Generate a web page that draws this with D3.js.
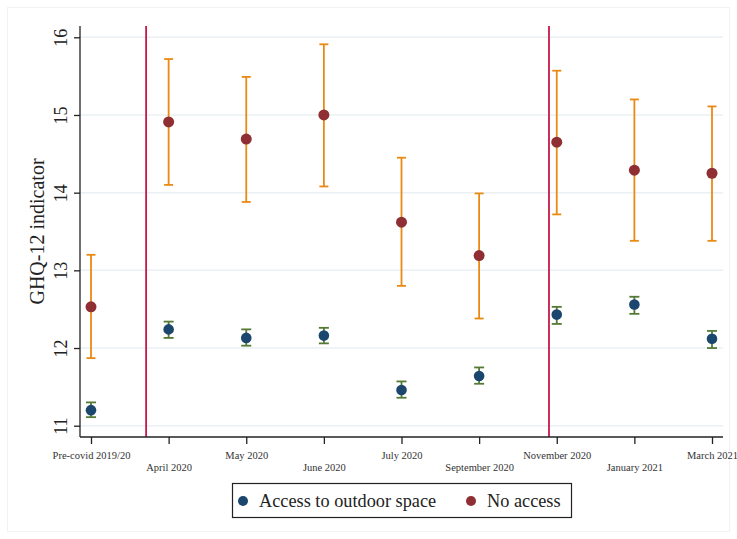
<!DOCTYPE html>
<html><head><meta charset="utf-8">
<script src="https://cdn.jsdelivr.net/npm/d3@7"></script>
<style>body{margin:0;background:#fff}</style>
</head><body>
<script>
const categories = ["Pre-covid 2019/20","April 2020","May 2020","June 2020","July 2020","September 2020","November 2020","January 2021","March 2021"];
const accessMean = [11.20,12.24,12.13,12.16,11.46,11.64,12.43,12.56,12.12];
const accessLo   = [11.11,12.13,12.03,12.06,11.36,11.54,12.31,12.44,12.00];
const accessHi   = [11.30,12.34,12.24,12.26,11.57,11.75,12.53,12.66,12.22];
const noMean = [12.53,14.91,14.69,15.00,13.62,13.19,14.65,14.29,14.25];
const noLo   = [11.87,14.10,13.88,14.08,12.80,12.38,13.72,13.38,13.38];
const noHi   = [13.20,15.72,15.49,15.91,14.45,13.99,15.57,15.20,15.11];
const yTicks = [11,12,13,14,15,16];
const refLines = [0.71, 5.9];
const legendLabels = ["Access to outdoor space","No access"];

const W=737,H=539;
const svg=d3.select("body").append("svg").attr("width",W).attr("height",H);
const font="'Liberation Serif', 'DejaVu Serif', serif";
svg.append("rect").attr("x",7.5).attr("y",7.5).attr("width",W-15).attr("height",H-15).attr("fill","none").attr("stroke","#f2f2f2");

const x=d3.scaleLinear().domain([0,8]).range([91,712]);
const y=d3.scaleLinear().domain([11,16]).range([425.7,37.3]);
const xL=80, xR=723, yT=26, yB=437;

svg.append("g").selectAll("line").data(yTicks).join("line")
  .attr("x1",xL).attr("x2",xR).attr("y1",d=>y(d)).attr("y2",d=>y(d))
  .attr("stroke","#eaf0f3").attr("stroke-width",1.5);

svg.append("g").selectAll("line").data(refLines).join("line")
  .attr("x1",d=>x(d)).attr("x2",d=>x(d)).attr("y1",yT).attr("y2",yB)
  .attr("stroke","#c8174a").attr("stroke-width",1.8);

const yAxis=svg.append("g").attr("transform",`translate(${xL},0)`)
  .call(d3.axisLeft(y).tickValues(yTicks).tickSize(6).tickFormat(d3.format("d")));
yAxis.select(".domain").attr("d",`M0,${yT}V${yB}`).attr("stroke","#222").attr("stroke-width",1.3);
yAxis.selectAll(".tick line").attr("stroke","#222").attr("stroke-width",1.3);
yAxis.selectAll(".tick text").attr("font-family",font).attr("font-size",18).attr("fill","#222")
  .attr("transform","rotate(-90)").attr("text-anchor","middle").attr("x",0).attr("y",-13).attr("dy","0");

const xAxis=svg.append("g").attr("transform",`translate(0,${yB})`)
  .call(d3.axisBottom(x).tickValues(d3.range(categories.length)).tickSize(7).tickFormat(i=>categories[i]));
xAxis.select(".domain").attr("d",`M${xL},0H${xR}`).attr("stroke","#222").attr("stroke-width",1.3);
xAxis.selectAll(".tick line").attr("stroke","#222").attr("stroke-width",1.3);
xAxis.selectAll(".tick text").attr("font-family",font).attr("font-size",10.5).attr("fill","#333")
  .attr("y",(d,i)=>i%2===0?15:27).attr("dy","0.71em");

svg.append("text").attr("transform",`translate(44,${(yT+yB)/2}) rotate(-90)`)
  .attr("text-anchor","middle").attr("font-family",font).attr("font-size",20).attr("fill","#222")
  .text("GHQ-12 indicator");

function series(mean,lo,hi,ciColor,dotColor,capW,r){
  const g=svg.append("g");
  const idx=d3.range(mean.length);
  g.selectAll(".v").data(idx).join("line").attr("x1",i=>x(i)).attr("x2",i=>x(i))
    .attr("y1",i=>y(lo[i])).attr("y2",i=>y(hi[i])).attr("stroke",ciColor).attr("stroke-width",1.8);
  g.selectAll(".c1").data(idx).join("line").attr("x1",i=>x(i)-capW/2).attr("x2",i=>x(i)+capW/2)
    .attr("y1",i=>y(lo[i])).attr("y2",i=>y(lo[i])).attr("stroke",ciColor).attr("stroke-width",1.8);
  g.selectAll(".c2").data(idx).join("line").attr("x1",i=>x(i)-capW/2).attr("x2",i=>x(i)+capW/2)
    .attr("y1",i=>y(hi[i])).attr("y2",i=>y(hi[i])).attr("stroke",ciColor).attr("stroke-width",1.8);
  g.selectAll("circle").data(idx).join("circle").attr("cx",i=>x(i)).attr("cy",i=>y(mean[i]))
    .attr("r",r).attr("fill",dotColor);
}
series(noMean,noLo,noHi,"#ea8a12","#8f2f33",9,5.5);
series(accessMean,accessLo,accessHi,"#557a36","#1b466d",10,5.3);

const lg=svg.append("g");
lg.append("rect").attr("x",232.5).attr("y",483.5).attr("width",339).attr("height",34)
  .attr("fill","#fff").attr("stroke","#222").attr("stroke-width",1.2);
lg.append("circle").attr("cx",243).attr("cy",501).attr("r",5).attr("fill","#1b466d");
lg.append("text").attr("x",259).attr("y",507).attr("font-family",font).attr("font-size",18.3).attr("fill","#222").text(legendLabels[0]);
lg.append("circle").attr("cx",471).attr("cy",501).attr("r",5).attr("fill","#8f2f33");
lg.append("text").attr("x",487).attr("y",507).attr("font-family",font).attr("font-size",18.3).attr("fill","#222").text(legendLabels[1]);
</script>
</body></html>
